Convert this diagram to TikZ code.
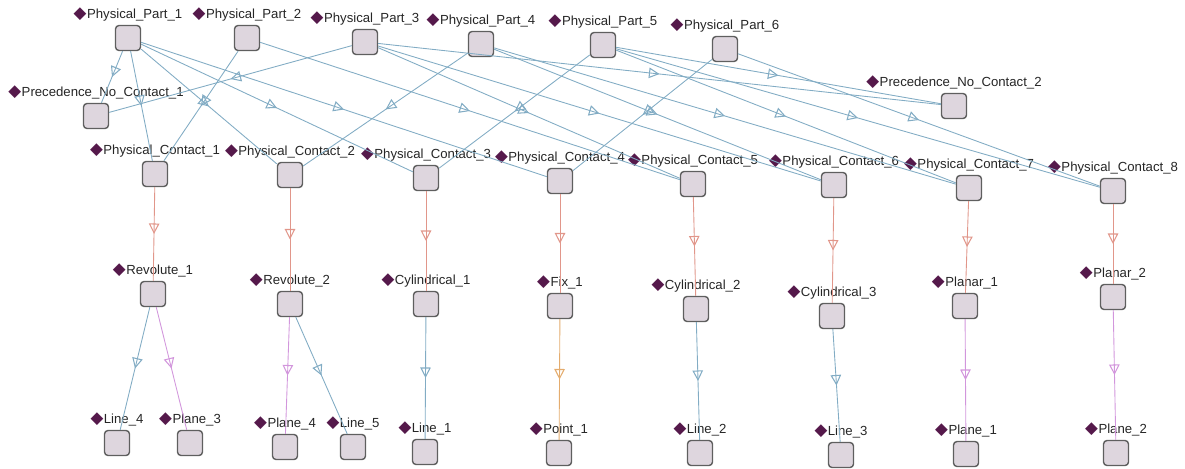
\documentclass[tikz,border=0pt]{standalone}
\usepackage{fontspec}
\setmainfont{Liberation Sans}
\newfontfamily\symfont{DejaVu Sans}
\usepackage{xcolor}
\usepackage{tikz}
\usetikzlibrary{positioning, decorations.markings, arrows.meta}
\definecolor{boxfill}{RGB}{222,214,222}
\definecolor{boxline}{RGB}{95,95,95}
\definecolor{dia}{RGB}{85,25,75}
\definecolor{ebl}{RGB}{130,172,196}
\definecolor{ered}{RGB}{225,150,138}
\definecolor{evio}{RGB}{210,150,220}
\definecolor{eora}{RGB}{228,172,110}
\newcommand\dmd{{\color{dia}\symfont\fontsize{9.5}{9.5}\selectfont ◆}}

\begin{document}
\begin{tikzpicture}[x=0.02cm, y=-0.02cm,
    box/.style={draw=boxline, fill=boxfill, rounded corners=2pt,
                line width=0.8pt, minimum size=0.5cm, inner sep=0pt},
    lbl/.style={font=\fontsize{7.5}{9}\selectfont, text=black!85, inner sep=1pt},
    rel/.style={color=#1, line width=0.5pt, postaction={decorate},
                decoration={markings, mark=at position 0.5 with
                {\arrow[line width=0.6pt]{Triangle[open, length=6pt, width=6pt]}}}},
]
\useasboundingbox (0,0) rectangle (1185,468);

\foreach \n/\x/\y/\t in {pp1/128/38/Physical\_Part\_1, pp2/247/38/Physical\_Part\_2,
    pp3/365/42/Physical\_Part\_3, pp4/481/44/Physical\_Part\_4,
    pp5/603/45/Physical\_Part\_5, pp6/725/49/Physical\_Part\_6,
    pnc1/96/116/Precedence\_No\_Contact\_1, pnc2/954/106/Precedence\_No\_Contact\_2,
    pc1/155/174/Physical\_Contact\_1, pc2/290/175/Physical\_Contact\_2,
    pc3/426/178/Physical\_Contact\_3, pc4/560/181/Physical\_Contact\_4,
    pc5/693/184/Physical\_Contact\_5, pc6/834/185/Physical\_Contact\_6,
    pc7/969/188/Physical\_Contact\_7, pc8/1113/191/Physical\_Contact\_8,
    rev1/153/294/Revolute\_1, rev2/290/304/Revolute\_2,
    cyl1/426/304/Cylindrical\_1, fix1/560/306/Fix\_1,
    cyl2/696/309/Cylindrical\_2, cyl3/832/316/Cylindrical\_3,
    pla1/965/306/Planar\_1, pla2/1113/297/Planar\_2,
    ln4/117/443/Line\_4, pl3/190/443/Plane\_3, pl4/285/447/Plane\_4,
    ln5/353/447/Line\_5, ln1/425/452/Line\_1, pt1/559/453/Point\_1,
    ln2/700/453/Line\_2, ln3/841/455/Line\_3, pl1/966/454/Plane\_1,
    pl2/1116/453/Plane\_2}
{
    \node[box] (\n) at (\x,\y) {};
    \node[lbl, above=1pt of \n] (\n-l) {\dmd\hspace{0.3pt}\t};
}

\foreach \a/\b in {pp1/pnc1, pp1/pc1, pp1/pc2, pp1/pc3, pp1/pc4, pp2/pc1, pp2/pc5,
    pp3/pnc1, pp3/pnc2, pp3/pc5, pp3/pc6, pp4/pc2, pp4/pc6, pp4/pc7,
    pp5/pc3, pp5/pnc2, pp5/pc7, pp5/pc8, pp6/pc4, pp6/pc8,
    rev1/ln4, rev2/ln5, cyl1/ln1, cyl2/ln2, cyl3/ln3}
    \draw[rel=ebl] (\a) -- (\b);
\foreach \a/\b in {pc1/rev1, pc2/rev2, pc3/cyl1, pc4/fix1, pc5/cyl2, pc6/cyl3, pc7/pla1, pc8/pla2}
    \draw[rel=ered] (\a) -- (\b);
\foreach \a/\b in {rev1/pl3, rev2/pl4, pla1/pl1, pla2/pl2}
    \draw[rel=evio] (\a) -- (\b);
\draw[rel=eora] (fix1) -- (pt1);
\end{tikzpicture}
\end{document}
